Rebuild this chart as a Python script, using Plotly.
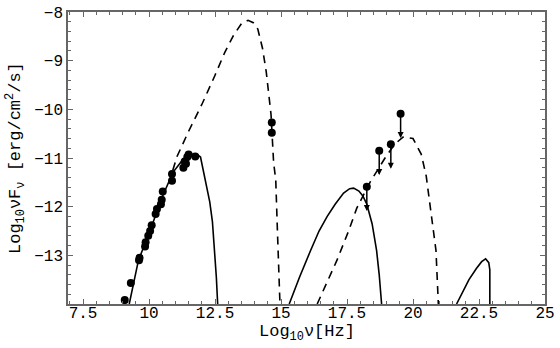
import plotly.graph_objects as go

# model curves (log10 nu, log10 nuFnu)
sync1_x = [9.25, 9.6, 10.0, 10.5, 10.9, 11.3, 11.6, 11.8, 11.95, 12.05, 12.2, 12.3, 12.4, 12.5, 12.55, 12.6]
sync1_y = [-14.0, -13.1, -12.55, -11.8, -11.3, -11.02, -10.93, -10.92, -10.98, -11.25, -11.6, -11.9, -12.3, -12.95, -13.45, -14.0]

comp1_x = [10.9, 11.06, 11.5, 12.0, 12.5, 12.87, 13.2, 13.5, 13.75, 13.95, 14.12, 14.3, 14.44, 14.55, 14.62, 14.72, 14.8, 14.87, 14.96]
comp1_y = [-11.25, -10.97, -10.45, -9.9, -9.3, -8.83, -8.48, -8.24, -8.17, -8.22, -8.35, -8.75, -9.23, -9.7, -10.1, -11.1, -11.45, -12.6, -14.0]

sync2_x = [15.31, 15.7, 16.12, 16.44, 16.75, 17.05, 17.37, 17.6, 17.75, 17.95, 18.1, 18.25, 18.45, 18.62, 18.72, 18.81]
sync2_y = [-14.0, -13.45, -12.9, -12.5, -12.2, -11.95, -11.72, -11.63, -11.62, -11.68, -11.78, -11.95, -12.35, -12.9, -13.4, -14.0]

comp2_x = [16.37, 16.75, 17.12, 17.56, 17.87, 18.37, 18.94, 19.3, 19.62, 20.0, 20.31, 20.5, 20.62, 20.75, 20.87, 20.96]
comp2_y = [-14.0, -13.55, -13.1, -12.5, -12.03, -11.5, -11.0, -10.72, -10.57, -10.6, -10.92, -11.37, -11.85, -12.4, -12.9, -14.0]

sync3_x = [21.65, 21.9, 22.12, 22.4, 22.6, 22.75, 22.87, 22.91, 22.91]
sync3_y = [-14.0, -13.75, -13.5, -13.27, -13.13, -13.07, -13.15, -13.3, -14.0]

# measured points
data_x = [9.08, 9.31, 9.62, 9.64, 9.85, 9.87, 9.97, 10.04, 10.1, 10.25, 10.3, 10.45, 10.48, 10.52,
          10.87, 10.87, 11.3, 11.35, 11.4, 11.45, 11.5, 11.75, 14.65, 14.65]
data_y = [-13.92, -13.57, -13.1, -13.05, -12.82, -12.73, -12.6, -12.5, -12.38, -12.15, -12.05, -11.95, -11.86, -11.69,
          -11.47, -11.33, -11.2, -11.07, -11.12, -10.98, -10.93, -10.97, -10.27, -10.48]

# upper limits
ul_x = [18.25, 18.72, 19.16, 19.53]
ul_y = [-11.59, -10.85, -10.72, -10.09]
ul_len = 0.5

x_ticks = [7.5, 10, 12.5, 15, 17.5, 20, 22.5, 25]
x_labels = ["7.5", "10", "12.5", "15", "17.5", "20", "22.5", "25"]
y_ticks = [-13, -12, -11, -10, -9, -8]
x_range = [6.93, 25]
y_range = [-14, -8]

x_title = "Log<sub>10</sub>ν[Hz]"
y_title = "Log<sub>10</sub>νF<sub>ν</sub> [erg/cm<sup>2</sup>/s]"

font = "Liberation Mono, Courier New, monospace"
solid = dict(color="black", width=1.6)
dashed = dict(color="black", width=1.6, dash="8px,6px")

fig = go.Figure()
fig.add_trace(go.Scatter(x=comp1_x, y=comp1_y, mode="lines", line=dashed))
fig.add_trace(go.Scatter(x=comp2_x, y=comp2_y, mode="lines", line=dashed))
fig.add_trace(go.Scatter(x=sync1_x, y=sync1_y, mode="lines", line=solid))
fig.add_trace(go.Scatter(x=sync2_x, y=sync2_y, mode="lines", line=solid))
fig.add_trace(go.Scatter(x=sync3_x, y=sync3_y, mode="lines", line=solid))
fig.add_trace(go.Scatter(x=data_x, y=data_y, mode="markers",
                         marker=dict(color="black", size=8)))
fig.add_trace(go.Scatter(x=ul_x, y=ul_y, mode="markers",
                         marker=dict(color="black", size=8)))

for ux, uy in zip(ul_x, ul_y):
    fig.add_annotation(x=ux, y=uy - ul_len, ax=ux, ay=uy, xref="x", yref="y",
                       axref="x", ayref="y", text="", showarrow=True,
                       arrowhead=2, arrowsize=0.8, arrowwidth=1.5, arrowcolor="black")

tick_style = dict(ticks="inside", ticklen=5, tickcolor="#666", tickwidth=1,
                  showgrid=False, zeroline=False)
line_style = dict(showline=True, linecolor="#666", linewidth=1.5)
label_font = dict(family=font, size=16, color="black")
title_font = dict(family=font, size=17, color="black")

# axis titles as annotations so they sit where the original has them
fig.add_annotation(text=x_title, xref="paper", yref="paper", x=0.5, y=0,
                   yshift=-29, yanchor="middle", showarrow=False, font=title_font)
fig.add_annotation(text=y_title, xref="paper", yref="paper", x=0, y=0.5,
                   xshift=-53, xanchor="center", textangle=-90, showarrow=False, font=title_font)

fig.update_layout(
    width=560, height=348, margin=dict(l=68, r=10, t=5, b=44),
    plot_bgcolor="white", paper_bgcolor="white", showlegend=False,
    xaxis=dict(range=x_range, tickvals=x_ticks, ticktext=x_labels,
               minor=dict(ticks="inside", dtick=0.5, tick0=0, ticklen=3, tickcolor="#666"),
               tickfont=label_font, ticklabeloverflow="allow", ticklabelstandoff=-7,
               **tick_style, **line_style),
    yaxis=dict(range=y_range, tickvals=y_ticks,
               minor=dict(ticks="inside", dtick=0.2, tick0=0, ticklen=3, tickcolor="#666"),
               tickfont=label_font, ticklabeloverflow="allow",
               **tick_style, **line_style),
    # frame on top/right with the same ticks
    xaxis2=dict(range=x_range, tickvals=x_ticks, overlaying="x", side="top",
                showticklabels=False,
                minor=dict(ticks="inside", dtick=0.5, tick0=0, ticklen=3, tickcolor="#666"),
                **tick_style, **line_style),
    yaxis2=dict(range=y_range, tickvals=y_ticks, overlaying="y", side="right",
                showticklabels=False,
                minor=dict(ticks="inside", dtick=0.2, tick0=0, ticklen=3, tickcolor="#666"),
                **tick_style, **line_style),
)
# empty trace to bring the top/right axes to life
fig.add_trace(go.Scatter(x=[], y=[], xaxis="x2", yaxis="y2", hoverinfo="skip"))

fig.write_html("out.html", post_script="document.body.style.margin='0';",
               config={"displayModeBar": False})
